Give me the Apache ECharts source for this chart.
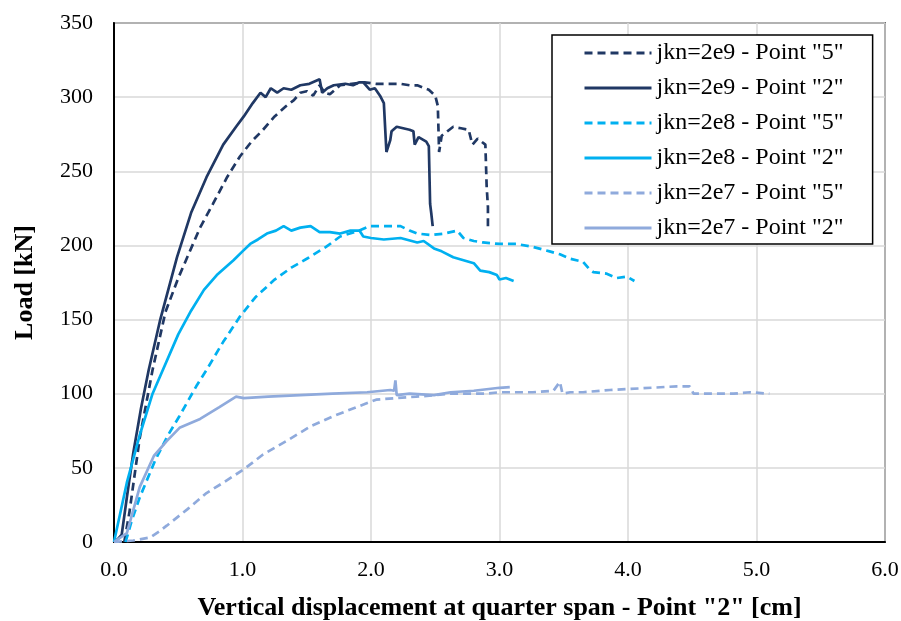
<!DOCTYPE html>
<html>
<head>
<meta charset="utf-8">
<script src="https://cdn.jsdelivr.net/npm/echarts@6/dist/echarts.min.js"></script>
<style>
    html, body {margin: 0; padding: 0; background: #fff;}
    #mycharts {width: 901px; height: 621px;}
</style>
</head>
<body>
<div id="mycharts"></div>
<script>
// [displacement cm, load kN]
const p5_2e9 = [[0.08,0],[0.12,20],[0.2,70],[0.3,116],[0.4,155],[0.5,178],[0.57,192],[0.67,212],[0.77,228],[0.88,246],[0.98,260],[1.07,270],[1.16,278],[1.25,287],[1.34,294],[1.4,298],[1.45,303],[1.5,304],[1.55,301],[1.6,308],[1.64,303],[1.68,302],[1.76,308],[1.85,309],[1.95,310],[2.04,309],[2.15,309],[2.23,309],[2.3,308],[2.36,308],[2.45,305],[2.5,301],[2.52,294],[2.53,263],[2.55,274],[2.58,276],[2.64,280],[2.7,279],[2.76,278],[2.78,271],[2.79,268],[2.83,272],[2.89,268],[2.9,240],[2.91,226],[2.91,212]];
const p2_2e9 = [[0,0],[0.03,2],[0.06,5],[0.1,30],[0.15,60],[0.21,90],[0.27,116],[0.36,150],[0.49,192],[0.6,222],[0.72,246],[0.85,268],[0.95,280],[1.01,287],[1.08,296],[1.14,303],[1.18,300],[1.22,306],[1.27,303],[1.32,306],[1.38,305],[1.45,308],[1.52,309],[1.6,312],[1.62,303],[1.66,306],[1.71,308],[1.8,309],[1.86,308],[1.91,310],[1.94,310],[1.99,305],[2.03,306],[2.07,301],[2.1,296],[2.12,263],[2.15,271],[2.16,277],[2.2,280],[2.3,278],[2.33,277],[2.34,268],[2.37,273],[2.43,270],[2.45,267],[2.46,228],[2.47,221],[2.48,213]];
const p5_2e8 = [[0.09,0],[0.14,15],[0.2,30],[0.32,55],[0.42,72],[0.51,85],[0.64,105],[0.72,116],[0.85,135],[0.98,152],[1.1,165],[1.25,177],[1.38,185],[1.5,191],[1.65,199],[1.76,206],[1.91,210],[1.99,213],[2.1,213],[2.23,213],[2.3,210],[2.36,208],[2.47,207],[2.57,208],[2.67,210],[2.72,205],[2.8,203],[2.87,202],[3.0,201],[3.13,201],[3.26,199],[3.39,196],[3.47,194],[3.55,191],[3.65,189],[3.7,184],[3.73,182],[3.83,181],[3.91,178],[3.99,179],[4.05,176]];
const p2_2e8 = [[0,0],[0.01,4],[0.1,40],[0.2,72],[0.3,100],[0.38,116],[0.5,140],[0.6,156],[0.7,170],[0.8,180],[0.93,190],[1.0,196],[1.06,201],[1.12,204],[1.19,208],[1.26,210],[1.32,213],[1.38,210],[1.45,212],[1.53,213],[1.6,209],[1.68,209],[1.76,208],[1.84,210],[1.91,210],[1.94,206],[2.0,205],[2.1,204],[2.23,205],[2.36,202],[2.41,203],[2.49,198],[2.55,196],[2.64,192],[2.72,190],[2.8,188],[2.85,183],[2.92,182],[2.98,180],[3.0,177],[3.05,178],[3.11,176]];
const p5_2e7 = [[0,0],[0.15,1],[0.28,3],[0.35,7],[0.41,11],[0.57,22],[0.72,33],[0.85,40],[1.01,49],[1.16,59],[1.34,68],[1.53,78],[1.71,85],[1.86,90],[2.04,96],[2.19,97],[2.35,98],[2.5,99],[2.61,100],[2.74,100],[2.9,100],[3.0,101],[3.26,101],[3.42,102],[3.47,108],[3.49,100],[3.55,101],[3.65,101],[3.86,102.5],[4.12,103.7],[4.38,105],[4.48,105],[4.51,100],[4.64,100],[4.82,100],[4.95,101],[5.1,100]];
const p2_2e7 = [[0,0],[0.1,6],[0.2,37],[0.31,58],[0.41,68],[0.51,77],[0.67,83],[0.82,91],[0.95,98],[1.01,97],[1.2,98],[1.45,99],[1.7,100],[1.97,101],[2.15,102.5],[2.18,102],[2.19,109],[2.2,99],[2.3,100],[2.49,99],[2.62,101],[2.8,102],[3.0,104],[3.08,104.5]];

const names = ['jkn=2e9 - Point "5"', 'jkn=2e9 - Point "2"', 'jkn=2e8 - Point "5"', 'jkn=2e8 - Point "2"', 'jkn=2e7 - Point "5"', 'jkn=2e7 - Point "2"'];
const colors = ['#203864', '#203864', '#00b0f0', '#00b0f0', '#8faadc', '#8faadc'];
const dashed = [true, false, true, false, true, false];
const allData = [p5_2e9, p2_2e9, p5_2e8, p2_2e8, p5_2e7, p2_2e7];

const font = 'Liberation Serif';

function makeSeries(i) {
    return {
        name: names[i],
        type: 'line',
        data: allData[i],
        symbol: 'none',
        lineStyle: {
            color: colors[i],
            width: 2.7,
            type: dashed[i] ? [8, 5] : 'solid'
        },
        itemStyle: {color: colors[i]}
    };
}

let chart = echarts.init(document.getElementById('mycharts'));
chart.setOption({
    animation: false,
    grid: {
        left: 114, right: 16, top: 23, bottom: 79,
        outerBoundsMode: 'none',
        show: true, borderColor: '#000', borderWidth: 1.5
    },
    legend: {
        orient: 'vertical',
        left: 552,
        top: 35,
        itemWidth: 67,
        itemHeight: 14,
        itemGap: 11,
        padding: [6, 29, 4, 31],
        borderColor: '#000',
        borderWidth: 1.5,
        backgroundColor: '#fff',
        itemStyle: {opacity: 0},
        lineStyle: {width: 3},
        textStyle: {fontFamily: font, fontSize: 24, color: '#000'}
    },
    xAxis: {
        type: 'value',
        min: 0, max: 6, interval: 1,
        name: 'Vertical displacement at quarter span - Point "2" [cm]',
        nameLocation: 'middle',
        nameGap: 53,
        nameTextStyle: {fontFamily: font, fontSize: 26, fontWeight: 'bold', color: '#000'},
        axisLine: {lineStyle: {color: '#000', width: 2}},
        axisTick: {show: false},
        axisLabel: {fontFamily: font, fontSize: 22, color: '#000', margin: 17, formatter: v => v.toFixed(1)},
        splitLine: {lineStyle: {color: '#d9d9d9', width: 1.5}}
    },
    yAxis: {
        type: 'value',
        min: 0, max: 350, interval: 50,
        name: 'Load [kN]',
        nameLocation: 'middle',
        nameGap: 76,
        nameTextStyle: {fontFamily: font, fontSize: 26, fontWeight: 'bold', color: '#000'},
        axisLine: {show: true, lineStyle: {color: '#000', width: 2}},
        axisTick: {show: false},
        axisLabel: {fontFamily: font, fontSize: 22, color: '#000', margin: 21},
        splitLine: {lineStyle: {color: '#d9d9d9', width: 1.5}}
    },
    series: [0, 1, 2, 3, 4, 5].map(makeSeries)
});
</script>
</body>
</html>
